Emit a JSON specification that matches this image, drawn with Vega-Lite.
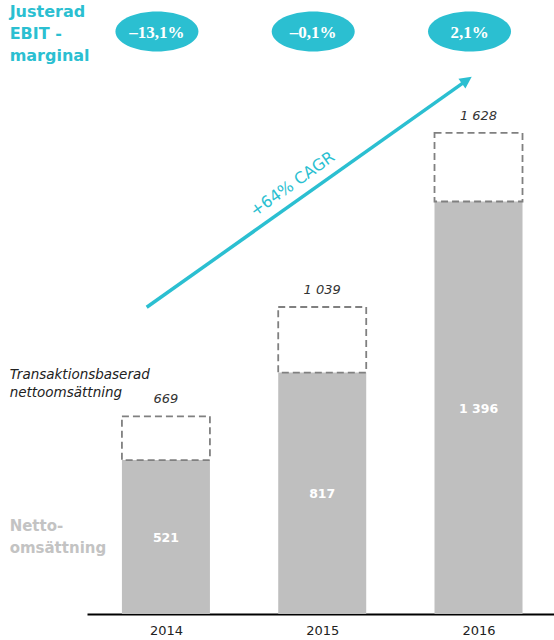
{
  "$schema": "https://vega.github.io/schema/vega-lite/v6.json",
  "width": 467,
  "height": 614,
  "autosize": {"type": "none"},
  "padding": {"left": 87, "top": 0, "right": 0, "bottom": 26},
  "background": "white",
  "data": {
    "values": [
      {"year": 2014, "net": 521, "total": 669, "ebit": -0.131},
      {"year": 2015, "net": 817, "total": 1039, "ebit": -0.001},
      {"year": 2016, "net": 1396, "total": 1628, "ebit": 0.021}
    ]
  },
  "layer": [
    {
      "mark": {"type": "bar", "orient": "vertical", "width": 88, "color": "#bfbfbf"},
      "encoding": {
        "x": {
          "field": "year", "type": "quantitative",
          "scale": {"domain": [2013.495, 2016.483], "nice": false, "zero": false, "padding": 0},
          "axis": {
            "values": [2014, 2015, 2016], "format": "d", "title": null,
            "ticks": false, "grid": false, "labelFlush": false,
            "domainColor": "#000000", "domainWidth": 2,
            "labelFont": "DejaVu Sans", "labelFontSize": 13, "labelColor": "#222222",
            "labelPadding": 10
          }
        },
        "y": {
          "field": "net", "type": "quantitative",
          "scale": {"domain": [0, 2078], "nice": false, "zero": true, "padding": 0},
          "axis": null
        }
      }
    },
    {
      "mark": {
        "type": "bar", "orient": "vertical", "width": 88,
        "fill": "transparent", "stroke": "#808080", "strokeWidth": 1.8, "strokeDash": [7, 4]
      },
      "encoding": {
        "x": {"field": "year", "type": "quantitative"},
        "y": {"field": "total", "type": "quantitative"},
        "y2": {"field": "net"}
      }
    },
    {
      "transform": [{"calculate": "datum.net / 2", "as": "mid"}],
      "mark": {
        "type": "text", "font": "DejaVu Sans", "fontWeight": "bold", "fontSize": 12.5,
        "color": "white", "baseline": "middle", "dy": 1
      },
      "encoding": {
        "x": {"field": "year", "type": "quantitative"},
        "y": {"field": "mid", "type": "quantitative"},
        "text": {"field": "net", "type": "quantitative", "format": ",d"}
      }
    },
    {
      "mark": {
        "type": "text", "font": "DejaVu Sans", "fontStyle": "italic", "fontSize": 13,
        "color": "#333333", "baseline": "alphabetic", "dy": -13
      },
      "encoding": {
        "x": {"field": "year", "type": "quantitative"},
        "y": {"field": "total", "type": "quantitative"},
        "text": {"field": "total", "type": "quantitative", "format": ",d"}
      }
    },
    {
      "mark": {
        "type": "point", "shape": "M-1,0A1,0.482,0,1,1,1,0A1,0.482,0,1,1,-1,0Z",
        "size": 6889, "filled": true, "color": "#2bbfd1", "opacity": 1,
        "strokeWidth": 0, "xOffset": -9
      },
      "encoding": {
        "x": {"field": "year", "type": "quantitative"},
        "y": {"datum": 1971, "type": "quantitative"}
      }
    },
    {
      "mark": {
        "type": "text", "font": "Liberation Serif", "fontWeight": "bold", "fontSize": 17,
        "color": "white", "baseline": "middle", "dx": -9, "dy": 1
      },
      "encoding": {
        "x": {"field": "year", "type": "quantitative"},
        "y": {"datum": 1971, "type": "quantitative"},
        "text": {"field": "ebit", "type": "quantitative", "format": ".1%"}
      }
    },
    {
      "data": {"values": [{}]},
      "mark": {
        "type": "text", "text": ["Justerad", "EBIT -", "marginal"],
        "font": "DejaVu Sans", "fontWeight": "bold", "fontSize": 16, "lineHeight": 22,
        "color": "#2bbfd1", "align": "left", "baseline": "top"
      },
      "encoding": {
        "x": {"datum": 2013, "type": "quantitative"},
        "y": {"datum": 2064, "type": "quantitative"}
      }
    },
    {
      "data": {"values": [{}]},
      "mark": {
        "type": "text", "text": ["Transaktionsbaserad", "nettoomsättning"],
        "font": "DejaVu Sans", "fontStyle": "italic", "fontSize": 13.5, "lineHeight": 18,
        "color": "#222222", "align": "left", "baseline": "top"
      },
      "encoding": {
        "x": {"datum": 2013, "type": "quantitative"},
        "y": {"datum": 831, "type": "quantitative"}
      }
    },
    {
      "data": {"values": [{}]},
      "mark": {
        "type": "text", "text": ["Netto-", "omsättning"],
        "font": "DejaVu Sans", "fontWeight": "bold", "fontSize": 15, "lineHeight": 22,
        "color": "#c3c3c3", "align": "left", "baseline": "top"
      },
      "encoding": {
        "x": {"datum": 2013, "type": "quantitative"},
        "y": {"datum": 321, "type": "quantitative"}
      }
    },
    {
      "data": {"values": [{}]},
      "mark": {"type": "rule", "color": "#2bbfd1", "strokeWidth": 3.5},
      "encoding": {
        "x": {"datum": 2013.877, "type": "quantitative"},
        "y": {"datum": 1038, "type": "quantitative"},
        "x2": {"datum": 2015.915},
        "y2": {"datum": 1802.8}
      }
    },
    {
      "data": {"values": [{}]},
      "mark": {
        "type": "point", "shape": "M0,0L-2,-1L-2,1Z", "size": 144, "angle": -35.4,
        "filled": true, "color": "#2bbfd1", "opacity": 1, "strokeWidth": 0
      },
      "encoding": {
        "x": {"datum": 2015.9565, "type": "quantitative"},
        "y": {"datum": 1818.4, "type": "quantitative"}
      }
    },
    {
      "data": {"values": [{}]},
      "mark": {
        "type": "text", "text": "+64% CAGR", "font": "DejaVu Sans", "fontSize": 16,
        "color": "#2bbfd1", "angle": -35.4, "align": "center", "baseline": "middle"
      },
      "encoding": {
        "x": {"datum": 2014.81, "type": "quantitative"},
        "y": {"datum": 1455, "type": "quantitative"}
      }
    }
  ],
  "config": {
    "view": {"stroke": null},
    "font": "DejaVu Sans",
    "locale": {
      "number": {
        "decimal": ",", "thousands": " ", "grouping": [3],
        "currency": ["", " kr"], "minus": "–"
      }
    }
  }
}
